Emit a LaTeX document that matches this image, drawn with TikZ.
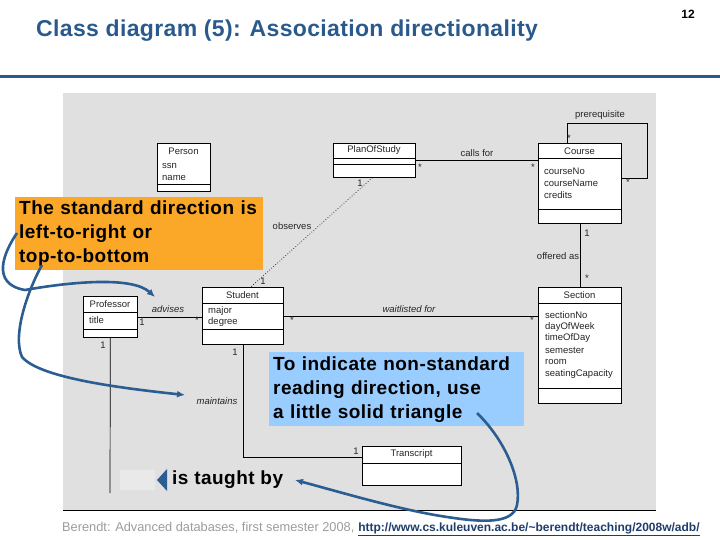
\documentclass[tikz,border=0pt]{standalone}
\usepackage{fontspec}
\setmainfont{Liberation Sans}
\newfontfamily\widefont[LetterSpace=2.5]{Liberation Sans}
\newfontfamily\titlefont[LetterSpace=1.5]{Liberation Sans}
\usetikzlibrary{arrows.meta}

\definecolor{slideblue}{HTML}{2A5A8C}
\definecolor{arrowblue}{HTML}{2B5D93}
\definecolor{canvasgray}{HTML}{E0E0E0}
\definecolor{notegray}{HTML}{E9E9E9}
\definecolor{calloutorange}{HTML}{FBA828}
\definecolor{calloutblue}{HTML}{99CCFF}
\definecolor{footgray}{HTML}{9C9C9C}
\definecolor{linkblue}{HTML}{1F3D6B}

\tikzset{
  umlclass/.style={draw, fill=white, line width=0.7pt, anchor=north west, inner sep=0pt},
  umltext/.style={font=\fontsize{9.5}{10}\selectfont, text=black!85, inner sep=0pt},
  attr/.style={umltext, anchor=west},
  role/.style={umltext, font=\fontsize{9.5}{10}\selectfont\itshape},
  mult/.style={umltext},
  callout/.style={anchor=north west, inner xsep=4pt, inner ysep=0pt, align=left,
    font=\widefont\bfseries\fontsize{19}{24}\selectfont},
  callarrow/.style={draw=arrowblue, line width=2.6pt, -{Latex[length=8pt,width=7pt]}},
}

\begin{document}
\begin{tikzpicture}[x=1pt,y=-1pt]
  \useasboundingbox (0,0) rectangle (720,540);

  % heading
  \node[anchor=base west, inner sep=0pt, text=slideblue,
        font=\titlefont\bfseries\fontsize{23}{26}\selectfont] (title) at (36,37)
        {Class diagram (5): Association directionality};
  \node[anchor=base, inner sep=0pt, font=\bfseries\fontsize{12}{14}\selectfont] (pageno) at (688,19) {12};
  \draw[slideblue, line width=3pt] (0,77) -- (720,77);

  % diagram canvas
  \fill[canvasgray] (63,93) rectangle (656,510);
  \draw[line width=0.8pt] (63,510) -- (656,510);

  % classes
  \begin{scope}[every node/.style={umlclass}]
    \node[minimum width=53pt, minimum height=48pt]  (person)     at (157,143) {};
    \node[minimum width=82pt, minimum height=34pt]  (plan)       at (333,143) {};
    \node[minimum width=83pt, minimum height=80pt]  (course)     at (538,143) {};
    \node[minimum width=54pt, minimum height=41pt]  (professor)  at (83,296)  {};
    \node[minimum width=81pt, minimum height=57pt]  (student)    at (202,287) {};
    \node[minimum width=83pt, minimum height=116pt] (section)    at (538,287) {};
    \node[minimum width=99pt, minimum height=39pt]  (transcript) at (362,446) {};
  \end{scope}

  \begin{scope}[line width=0.7pt]
    \draw ([yshift=-41pt]person.north west) -- ([yshift=-41pt]person.north east);
    \draw ([yshift=-15pt]plan.north west) -- ([yshift=-15pt]plan.north east);
    \draw ([yshift=-21pt]plan.north west) -- ([yshift=-21pt]plan.north east);
    \draw ([yshift=-15pt]course.north west) -- ([yshift=-15pt]course.north east);
    \draw ([yshift=-66pt]course.north west) -- ([yshift=-66pt]course.north east);
    \draw ([yshift=-16pt]professor.north west) -- ([yshift=-16pt]professor.north east);
    \draw ([yshift=-33pt]professor.north west) -- ([yshift=-33pt]professor.north east);
    \draw ([yshift=-16pt]student.north west) -- ([yshift=-16pt]student.north east);
    \draw ([yshift=-42pt]student.north west) -- ([yshift=-42pt]student.north east);
    \draw ([yshift=-16pt]section.north west) -- ([yshift=-16pt]section.north east);
    \draw ([yshift=-101pt]section.north west) -- ([yshift=-101pt]section.north east);
    \draw ([yshift=-17pt]transcript.north west) -- ([yshift=-17pt]transcript.north east);
  \end{scope}

  % class names and attributes
  \begin{scope}[every node/.style={umltext}]
    \node (personname)     at (183.5,151) {Person};
    \node (planname)       at (374,150)   {PlanOfStudy};
    \node (coursename)     at (579.5,151) {Course};
    \node (professorname)  at (110,304)   {Professor};
    \node (studentname)    at (242.5,295) {Student};
    \node (sectionname)    at (579.5,295) {Section};
    \node (transcriptname) at (411.5,454) {Transcript};
  \end{scope}

  \node[attr] (ssn)        at (162,166) {ssn};
  \node[attr] (pname)      at (162,178) {name};
  \node[attr] (courseno)   at (544,171) {courseNo};
  \node[attr] (coursename2) at (544,183) {courseName};
  \node[attr] (credits)    at (544,195) {credits};
  \node[attr] (ptitle)     at (89,320)  {title};
  \node[attr] (major)      at (208,311) {major};
  \node[attr] (degree)     at (208,322) {degree};
  \foreach \attrname [count=\i] in {sectionNo,dayOfWeek,timeOfDay,semester,room,seatingCapacity}
    \node[attr] (secattr\i) at (545,{303+11.8*\i}) {\attrname};

  % associations
  \begin{scope}[line width=0.7pt]
    \draw (plan.east) -- (course.west |- plan.east);
    \draw ([xshift=-13pt]course.north) |- (647,123) |- ([yshift=5pt]course.east);
    \draw (course.south) -- (section.north);
    \draw[dotted] ([xshift=-2pt]plan.south) -- ([xshift=8pt]student.north);
    \draw (professor.east) -- (student.west |- professor.east);
    \draw (student.east) -- (section.west |- student.east);
    \draw (student.south) |- ([yshift=8.5pt]transcript.west);
    \coordinate (taughtend) at (110,493);
    \draw (professor.south) -- (taughtend);
  \end{scope}

  % association names
  \node[umltext] (callsfor)     at (477,153) {calls for};
  \node[umltext] (prerequisite) at (600,115) {prerequisite};
  \node[umltext] (offeredas)    at (558,256) {offered as};
  \node[umltext] (observes)     at (292,226) {observes};
  \node[role]    (advises)      at (168,309) {advises};
  \node[role]    (waitlisted)   at (409,309) {waitlisted for};
  \node[role]    (maintains)    at (217,401) {maintains};

  % multiplicities
  \node[mult] (m1)  at (420,167) {*};
  \node[mult] (m2)  at (533,167) {*};
  \node[mult] (m3)  at (569,138) {*};
  \node[mult] (m4)  at (628,182) {*};
  \node[mult] (m5)  at (587,233) {1};
  \node[mult] (m6)  at (587,278) {*};
  \node[mult] (m7)  at (360,183) {1};
  \node[mult] (m8)  at (263,281) {1};
  \node[mult] (m9)  at (142,322) {1};
  \node[mult] (m10) at (197,320) {*};
  \node[mult] (m11) at (292,320) {*};
  \node[mult] (m12) at (532,320) {*};
  \node[mult] (m13) at (235,352) {1};
  \node[mult] (m14) at (356,451) {1};
  \node[mult] (m15) at (103,345) {1};

  % reading direction marker
  \fill[notegray] (120,470) rectangle (155,490);
  \fill[arrowblue] (157,480) -- (167,469) -- (167,491) -- cycle;
  \node[anchor=west, inner sep=0pt, font=\widefont\bfseries\fontsize{19}{24}\selectfont]
       (taughtby) at (172,480) {is taught by};

  % callouts
  \node[callout, fill=calloutorange, minimum width=248pt, minimum height=73pt, text width=240pt]
       (standardnote) at (15,197) {The standard direction is\\left-to-right or\\top-to-bottom};
  \node[callout, fill=calloutblue, minimum width=255pt, minimum height=74pt, text width=247pt]
       (trianglenote) at (269,352) {To indicate non-standard\\reading direction, use\\a little solid triangle};

  % pointer arrows
  \coordinate (ltrstart) at (17,233);
  \coordinate (advtip)   at (155,297);
  \coordinate (ttbstart) at (42,265);
  \coordinate (maintip)  at (185,395);
  \coordinate (tristart) at (477,413);
  \coordinate (taughttip) at (295,480);
  \draw[callarrow] (ltrstart) .. controls (4,252) and (-10,284) .. (25,290)
                   .. controls (70,282) and (132,276) .. (advtip);
  \draw[callarrow] (ttbstart) .. controls (28,290) and (12,335) .. (22,357)
                   .. controls (40,378) and (120,388) .. (maintip);
  \draw[callarrow] (tristart) .. controls (505,440) and (522,480) .. (517,505)
                   .. controls (513,525) and (480,522) .. (447,517)
                   .. controls (400,510) and (340,492) .. (taughttip);

  % footer
  \node[anchor=base west, inner sep=0pt, text=footgray, font=\fontsize{12.8}{14}\selectfont]
       (footer) at (62,531) {Berendt: Advanced databases, first semester 2008,\kern3.5pt};
  \node[anchor=base west, inner sep=0pt, text=linkblue, font=\bfseries\fontsize{12}{14}\selectfont]
       (footlink) at (footer.base east)
       {\underline{http://www.cs.kuleuven.ac.be/\textasciitilde berendt/teaching/2008w/adb/}};
\end{tikzpicture}
\end{document}
